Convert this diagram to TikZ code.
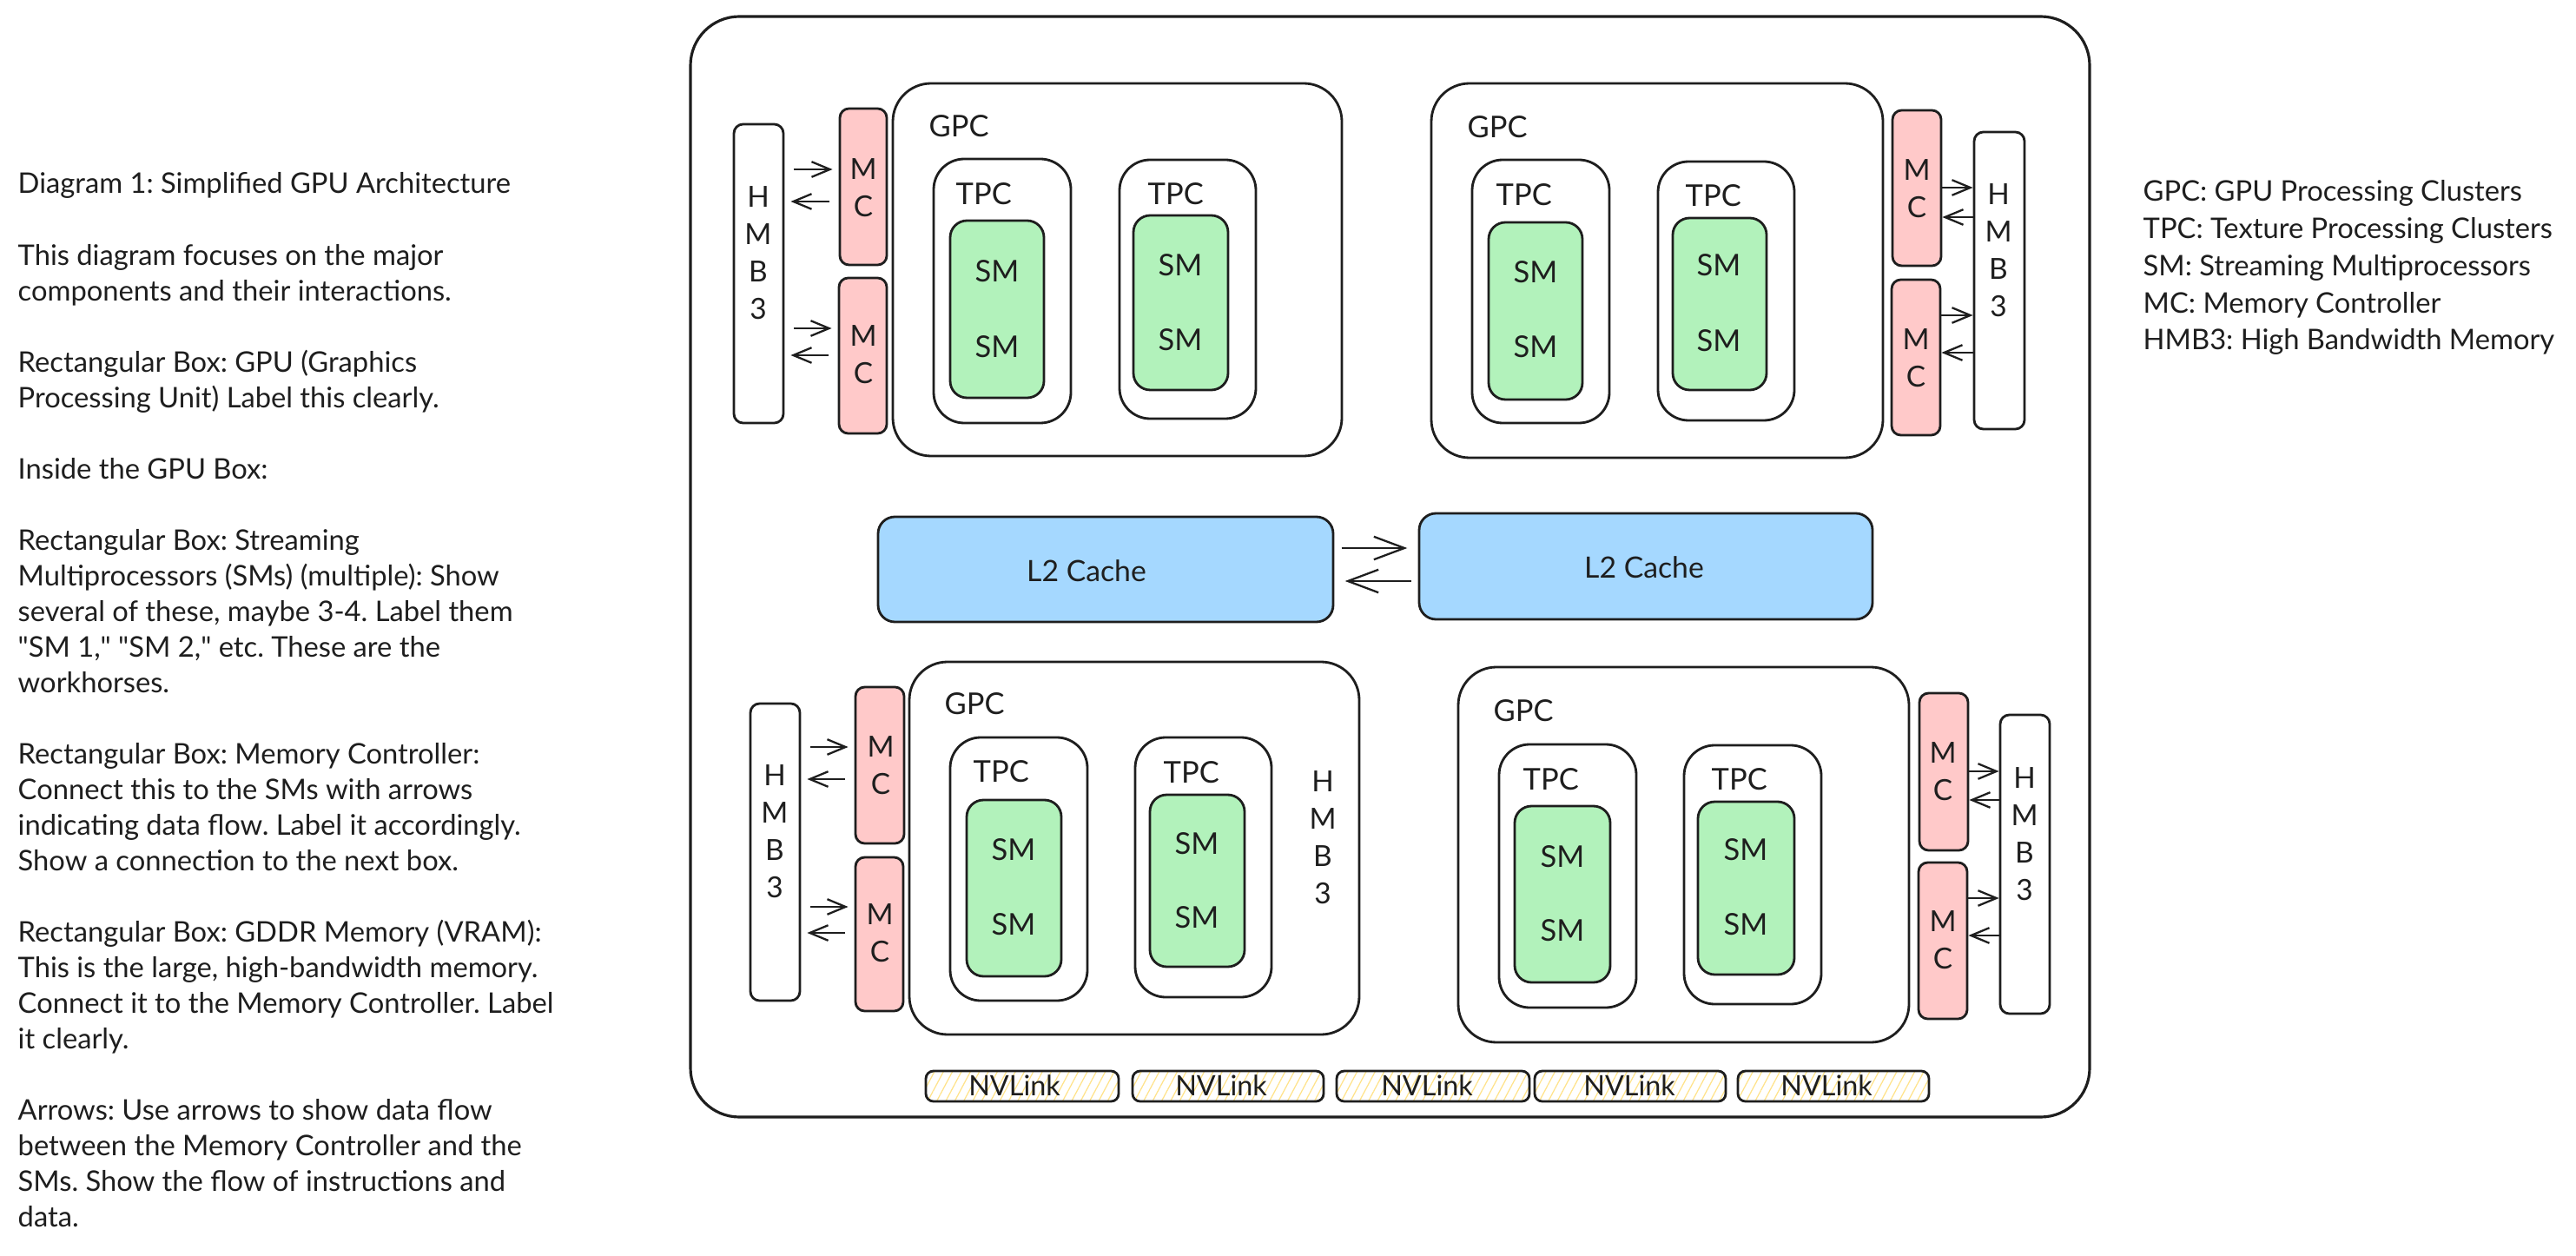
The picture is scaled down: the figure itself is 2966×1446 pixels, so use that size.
\documentclass[tikz,border=0pt]{standalone}
\usepackage{fontspec}
\setmainfont{Lato}
\frenchspacing
\usetikzlibrary{fit,arrows.meta,patterns.meta}
\font\latoq="Lato" at 9.3pt
\newcommand{\mydq}{{\latoq\char34}}
\definecolor{ink}{HTML}{1E1E1E}
\definecolor{mcred}{HTML}{FFC9C9}
\definecolor{smgreen}{HTML}{B2F2BB}
\definecolor{l2blue}{HTML}{A5D8FF}
\definecolor{nvyellow}{HTML}{FFE38A}
\tikzset{
  base/.style={draw=ink, line width=0.8pt, inner sep=0pt},
  gpubox/.style={base, line width=0.9pt, rounded corners=16pt},
  gpcbox/.style={base, rounded corners=12.5pt},
  tpcbox/.style={base, rounded corners=10pt},
  smbox/.style={base, fill=smgreen, rounded corners=5.5pt},
  mcbox/.style={base, fill=mcred, rounded corners=3pt},
  hmbbox/.style={base, fill=white, rounded corners=3pt},
  l2box/.style={base, fill=l2blue, rounded corners=5.5pt},
  nvbox/.style={base, rounded corners=2.5pt, pattern={Lines[angle=62,distance=2.6pt,line width=0.35pt]}, pattern color=nvyellow},
  lbl/.style={inner sep=0pt, text=ink, font=\fontsize{9.8}{11}\selectfont},
  nvl/.style={inner sep=0pt, text=ink, font=\fontsize{9.2}{11}\selectfont},
  stack/.style={inner sep=0pt, text=ink, align=center, font=\fontsize{9.5}{12.2}\selectfont},
  bigl/.style={inner sep=0pt, text=ink, font=\fontsize{9.6}{11}\selectfont},
  prose/.style={inner sep=0pt, text=ink, anchor=base west, font=\fontsize{9.3}{11.7}\selectfont},
  arr/.style={draw=ink, line width=0.65pt, -{Straight Barb[length=6pt,width=5pt]}},
  arrl/.style={arr, shorten <=3pt, shorten >=2pt},
  arrbig/.style={draw=ink, line width=0.65pt, -{Straight Barb[length=10pt,width=7.5pt]}, shorten <=2.3pt, shorten >=3.5pt},
}
\begin{document}
\begin{tikzpicture}[x=0.01cm,y=-0.01cm]
\useasboundingbox (0,0) rectangle (2966,1446);
\fill[white] (0,0) rectangle (2966,1446);

% ---------- left prose ----------
\foreach \n/\t in {
 1/{Diagram 1: Simplified GPU Architecture},
 3/{This diagram focuses on the major},
 4/{components and their interactions.},
 6/{Rectangular Box: GPU (Graphics},
 7/{Processing Unit) Label this clearly.},
 9/{Inside the GPU Box:},
 11/{Rectangular Box: Streaming},
 12/{Multiprocessors (SMs) (multiple): Show},
 13/{several of these, maybe 3-4. Label them},
 14/{\mydq SM 1,\mydq{} \mydq SM 2,\mydq{} etc. These are the},
 15/{workhorses.},
 17/{Rectangular Box: Memory Controller:},
 18/{Connect this to the SMs with arrows},
 19/{indicating data flow. Label it accordingly.},
 20/{Show a connection to the next box.},
 22/{Rectangular Box: GDDR Memory (VRAM):},
 23/{This is the large, high-bandwidth memory.},
 24/{Connect it to the Memory Controller. Label},
 25/{it clearly.},
 27/{Arrows: Use arrows to show data flow},
 28/{between the Memory Controller and the},
 29/{SMs. Show the flow of instructions and},
 30/{data.}}
 \node[prose] (prose\n) at (20,{212+41.03*(\n-1)+11}) {\t};

% ---------- right legend ----------
\foreach \t [count=\i] in {
 {GPC: GPU Processing Clusters},
 {TPC: Texture Processing Clusters},
 {SM: Streaming Multiprocessors},
 {MC: Memory Controller},
 {HMB3: High Bandwidth Memory}}
 \node[prose] (legend\i) at (2467,{221+42.75*(\i-1)+11}) {\t};

% ---------- GPU outline ----------
\node[gpubox, fit={(795,19) (2406,1286)}] (gpu) {};

% ---------- top-left quadrant ----------
\node[hmbbox, fit={(845,143) (902,487)}] (hmbTL) {};
\node[stack] (tHmbTL) at (873,291) {H\\M\\B\\3};
\node[mcbox, fit={(967,125) (1021,305)}] (mcTL1) {};
\node[stack] (tMcTL1) at (994,216) {M\\C};
\node[mcbox, fit={(966,320) (1021,499)}] (mcTL2) {};
\node[stack] (tMcTL2) at (994,408) {M\\C};
\node[gpcbox, fit={(1028,96) (1545,525)}] (gpcTL) {};
\node[lbl, anchor=west] (tGpcTL) at (1069,145) {GPC};
\node[tpcbox, fit={(1075,183) (1233,487)}] (tpcTL1) {};
\node[lbl, anchor=west] (tTpcTL1) at (1100,223) {TPC};
\node[smbox, fit={(1094,254) (1202,458)}] (smTL1) {};
\node[lbl] (tSmTL1a) at (1148,312) {SM};
\node[lbl] (tSmTL1b) at (1148,399) {SM};
\node[tpcbox, fit={(1289,184) (1446,482)}] (tpcTL2) {};
\node[lbl, anchor=west] (tTpcTL2) at (1321,223) {TPC};
\node[smbox, fit={(1305,248) (1414,449)}] (smTL2) {};
\node[lbl] (tSmTL2a) at (1359,305) {SM};
\node[lbl] (tSmTL2b) at (1359,391) {SM};
\draw[arrl] (hmbTL.east |- 0,195) -- (mcTL1.west |- 0,195);
\draw[arrl] (mcTL1.west |- 0,232) -- (hmbTL.east |- 0,232);
\draw[arrl] (hmbTL.east |- 0,378) -- (mcTL2.west |- 0,378);
\draw[arrl] (mcTL2.west |- 0,409) -- (hmbTL.east |- 0,409);

% ---------- top-right quadrant ----------
\node[gpcbox, fit={(1648,96) (2168,527)}] (gpcTR) {};
\node[lbl, anchor=west] (tGpcTR) at (1689,146) {GPC};
\node[tpcbox, fit={(1695,184) (1853,487)}] (tpcTR1) {};
\node[lbl, anchor=west] (tTpcTR1) at (1722,224) {TPC};
\node[smbox, fit={(1714,256) (1822,460)}] (smTR1) {};
\node[lbl] (tSmTR1a) at (1768,313) {SM};
\node[lbl] (tSmTR1b) at (1768,399) {SM};
\node[tpcbox, fit={(1909,186) (2066,484)}] (tpcTR2) {};
\node[lbl, anchor=west] (tTpcTR2) at (1940,225) {TPC};
\node[smbox, fit={(1926,251) (2034,449)}] (smTR2) {};
\node[lbl] (tSmTR2a) at (1979,305) {SM};
\node[lbl] (tSmTR2b) at (1979,392) {SM};
\node[mcbox, fit={(2179,127) (2235,306)}] (mcTR1) {};
\node[stack] (tMcTR1) at (2207,217) {M\\C};
\node[mcbox, fit={(2178,322) (2234,501)}] (mcTR2) {};
\node[stack] (tMcTR2) at (2206,412) {M\\C};
\node[hmbbox, fit={(2273,152) (2331,494)}] (hmbTR) {};
\node[stack] (tHmbTR) at (2301,288) {H\\M\\B\\3};
\draw[arr] (mcTR1.east |- 0,216) -- (hmbTR.west |- 0,216);
\draw[arr] (hmbTR.west |- 0,250) -- (mcTR1.east |- 0,250);
\draw[arr] (mcTR2.east |- 0,363) -- (hmbTR.west |- 0,363);
\draw[arr] (hmbTR.west |- 0,406) -- (mcTR2.east |- 0,406);

% ---------- L2 caches ----------
\node[l2box, fit={(1011,595) (1535,716)}] (l2a) {};
\node[bigl] (tL2a) at (1251,657) {L2 Cache};
\node[l2box, fit={(1634,591) (2156,713)}] (l2b) {};
\node[bigl] (tL2b) at (1893,653) {L2 Cache};
\draw[arrbig] (l2a.east |- 0,631) -- (l2b.west |- 0,631);
\draw[arrbig] (l2b.west |- 0,669) -- (l2a.east |- 0,669);

% ---------- bottom-left quadrant ----------
\node[hmbbox, fit={(864,810) (921,1152)}] (hmbBL) {};
\node[stack] (tHmbBL) at (892,957) {H\\M\\B\\3};
\node[mcbox, fit={(985,791) (1041,971)}] (mcBL1) {};
\node[stack] (tMcBL1) at (1014,881) {M\\C};
\node[mcbox, fit={(985,987) (1040,1164)}] (mcBL2) {};
\node[stack] (tMcBL2) at (1013,1074) {M\\C};
\node[gpcbox, fit={(1047,762) (1565,1191)}] (gpcBL) {};
\node[lbl, anchor=west] (tGpcBL) at (1087,810) {GPC};
\node[tpcbox, fit={(1094,849) (1252,1152)}] (tpcBL1) {};
\node[lbl, anchor=west] (tTpcBL1) at (1120,888) {TPC};
\node[smbox, fit={(1113,921) (1222,1124)}] (smBL1) {};
\node[lbl] (tSmBL1a) at (1167,978) {SM};
\node[lbl] (tSmBL1b) at (1167,1064) {SM};
\node[tpcbox, fit={(1307,849) (1464,1148)}] (tpcBL2) {};
\node[lbl, anchor=west] (tTpcBL2) at (1339,889) {TPC};
\node[smbox, fit={(1324,915) (1433,1113)}] (smBL2) {};
\node[lbl] (tSmBL2a) at (1378,971) {SM};
\node[lbl] (tSmBL2b) at (1378,1056) {SM};
\node[stack] (tHmbStray) at (1523,964) {H\\M\\B\\3};
\draw[arrl] (hmbBL.east |- 0,860) -- (mcBL1.west |- 0,860);
\draw[arrl] (mcBL1.west |- 0,897) -- (hmbBL.east |- 0,897);
\draw[arrl] (hmbBL.east |- 0,1044) -- (mcBL2.west |- 0,1044);
\draw[arrl] (mcBL2.west |- 0,1074) -- (hmbBL.east |- 0,1074);

% ---------- bottom-right quadrant ----------
\node[gpcbox, fit={(1679,768) (2198,1200)}] (gpcBR) {};
\node[lbl, anchor=west] (tGpcBR) at (1719,818) {GPC};
\node[tpcbox, fit={(1726,857) (1884,1160)}] (tpcBR1) {};
\node[lbl, anchor=west] (tTpcBR1) at (1753,897) {TPC};
\node[smbox, fit={(1744,928) (1854,1131)}] (smBR1) {};
\node[lbl] (tSmBR1a) at (1799,986) {SM};
\node[lbl] (tSmBR1b) at (1799,1071) {SM};
\node[tpcbox, fit={(1939,858) (2097,1156)}] (tpcBR2) {};
\node[lbl, anchor=west] (tTpcBR2) at (1970,897) {TPC};
\node[smbox, fit={(1955,923) (2066,1122)}] (smBR2) {};
\node[lbl] (tSmBR2a) at (2010,978) {SM};
\node[lbl] (tSmBR2b) at (2010,1064) {SM};
\node[mcbox, fit={(2210,798) (2266,979)}] (mcBR1) {};
\node[stack] (tMcBR1) at (2237,888) {M\\C};
\node[mcbox, fit={(2209,993) (2265,1173)}] (mcBR2) {};
\node[stack] (tMcBR2) at (2237,1082) {M\\C};
\node[hmbbox, fit={(2303,823) (2360,1167)}] (hmbBR) {};
\node[stack] (tHmbBR) at (2331,960) {H\\M\\B\\3};
\draw[arr] (mcBR1.east |- 0,888) -- (hmbBR.west |- 0,888);
\draw[arr] (hmbBR.west |- 0,921) -- (mcBR1.east |- 0,921);
\draw[arr] (mcBR2.east |- 0,1034) -- (hmbBR.west |- 0,1034);
\draw[arr] (hmbBR.west |- 0,1077) -- (mcBR2.east |- 0,1077);

% ---------- NVLink ----------
\foreach \i/\a/\b/\c in {1/1066/1288/1168, 2/1304/1524/1406, 3/1539/1761/1643, 4/1767/1987/1876, 5/2001/2221/2103} {
  \node[nvbox, fit={(\a,1233) (\b,1268)}] (nv\i) {};
  \node[nvl] (tNv\i) at (\c,1250) {NVLink};
}
\end{tikzpicture}
\end{document}
